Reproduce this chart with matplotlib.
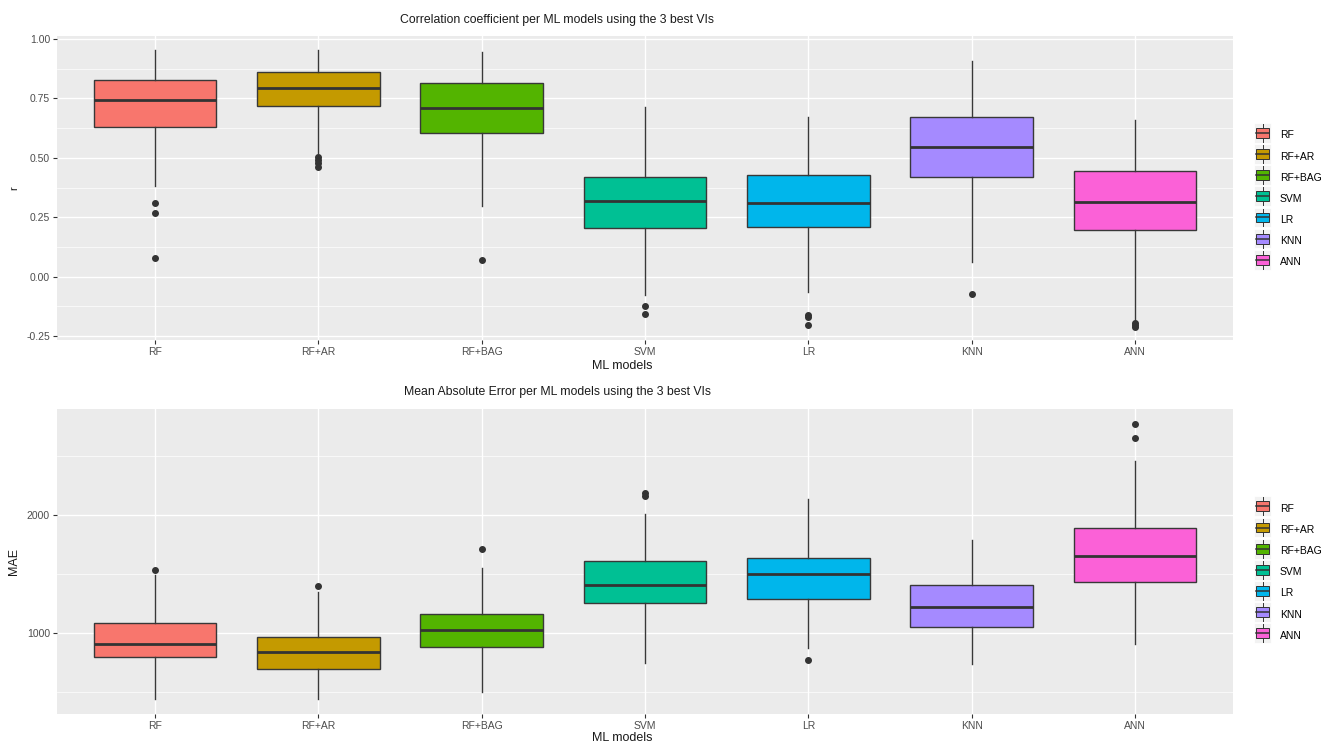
import matplotlib
matplotlib.use("Agg")
import matplotlib.pyplot as plt
from matplotlib.legend_handler import HandlerBase
from matplotlib.patches import Rectangle, Patch
from matplotlib.lines import Line2D

plt.rcParams['font.family'] = ['Liberation Sans', 'DejaVu Sans']

models = ["RF", "RF+AR", "RF+BAG", "SVM", "LR", "KNN", "ANN"]
colors = ["#F8766D", "#C49A00", "#53B400", "#00C094", "#00B6EB", "#A58AFF", "#FB61D7"]

# correlation coefficient r
r_low = [0.381, 0.520, 0.298, -0.077, -0.066, 0.063, -0.183]
r_q1 = [0.630, 0.719, 0.606, 0.205, 0.209, 0.418, 0.195]
r_med = [0.743, 0.795, 0.708, 0.320, 0.310, 0.547, 0.315]
r_q3 = [0.827, 0.862, 0.816, 0.418, 0.426, 0.672, 0.444]
r_high = [0.954, 0.954, 0.947, 0.712, 0.673, 0.907, 0.659]
r_out = [[0.310, 0.268, 0.078], [0.505, 0.490, 0.477, 0.463], [0.070],
         [-0.124, -0.156], [-0.162, -0.171, -0.202], [-0.075],
         [-0.194, -0.204, -0.211]]
r_ticks = [-0.25, 0.0, 0.25, 0.50, 0.75, 1.00]
r_lim = (-0.267, 1.013)

# mean absolute error
mae_low = [448, 442, 504, 747, 873, 740, 913]
mae_q1 = [800, 701, 882, 1259, 1290, 1056, 1431]
mae_med = [907, 844, 1027, 1408, 1504, 1219, 1656]
mae_q3 = [1090, 966, 1163, 1611, 1637, 1405, 1893]
mae_high = [1490, 1352, 1555, 2006, 2133, 1789, 2456]
mae_out = [[1535], [1400], [1713], [2183, 2163], [775], [], [2769, 2651]]
mae_ticks = [1000, 2000]
mae_lim = (318, 2896)

W, H = 1338, 747
fig = plt.figure(figsize=(W / 100, H / 100), dpi=100)


class BoxKey(HandlerBase):
    def create_artists(self, legend, orig, xd, yd, w, h, fontsize, trans):
        x0, y0 = -xd, -yd
        h = h + yd
        fc = orig.get_facecolor()
        bg = Rectangle((x0, y0), w, h, facecolor='#F2F2F2', edgecolor='white',
                       lw=0.6, transform=trans)
        box = Rectangle((x0 + 0.1 * w, y0 + 0.25 * h), 0.8 * w, 0.5 * h,
                        facecolor=fc, edgecolor='#333333', lw=0.7, transform=trans)
        med = Line2D([x0 + 0.1 * w, x0 + 0.9 * w], [y0 + h / 2] * 2,
                     color='#333333', lw=1.1, transform=trans)
        w1 = Line2D([x0 + w / 2] * 2, [y0 + 0.05 * h, y0 + 0.25 * h],
                    color='#333333', lw=0.7, transform=trans)
        w2 = Line2D([x0 + w / 2] * 2, [y0 + 0.75 * h, y0 + 0.95 * h],
                    color='#333333', lw=0.7, transform=trans)
        return [bg, box, med, w1, w2]


def panel(top_px, bot_px, low, q1, med, q3, high, out, ticks, lim, fmt,
          title, title_y, ylab, xlab_y, leg_y):
    ax = fig.add_axes([57 / W, 1 - bot_px / H, (1233 - 57) / W, (bot_px - top_px) / H])
    ax.set_facecolor('#EBEBEB')
    for s in ax.spines.values():
        s.set_visible(False)
    stats = []
    for i in range(len(models)):
        stats.append(dict(whislo=low[i], q1=q1[i], med=med[i], q3=q3[i],
                          whishi=high[i], fliers=out[i]))
    pos = list(range(1, len(models) + 1))
    bp = ax.bxp(stats, positions=pos, widths=0.75, patch_artist=True,
                showcaps=False,
                boxprops=dict(edgecolor='#383838', lw=1.0),
                medianprops=dict(color='#333333', lw=2.0),
                whiskerprops=dict(color='#383838', lw=1.0),
                flierprops=dict(marker='o', markerfacecolor='#333333',
                                markeredgecolor='#333333', markersize=4.0))
    for patch, c in zip(bp['boxes'], colors):
        patch.set_facecolor(c)
    ax.set_xlim(0.4, 7.6)
    ax.set_ylim(*lim)
    ax.set_xticks(pos)
    ax.set_xticklabels(models)
    ax.set_yticks(ticks)
    ax.set_yticklabels([fmt % t for t in ticks])
    step = ticks[1] - ticks[0]
    minors = [ticks[0] - step / 2] + [t + step / 2 for t in ticks]
    ax.set_yticks([m for m in minors if lim[0] < m < lim[1]], minor=True)
    ax.tick_params(which='major', length=3, width=0.8, color='#333333',
                   labelcolor='#4D4D4D', labelsize=7.5, pad=2)
    ax.tick_params(which='minor', length=0)
    ax.grid(which='major', color='white', lw=1.0)
    ax.grid(which='minor', axis='y', color='white', lw=0.5)
    ax.set_axisbelow(True)
    fig.text(557 / W, 1 - title_y / H, title, ha='center', va='center',
             fontsize=8.8, color='#1A1A1A')
    fig.text(622 / W, 1 - xlab_y / H, "ML models", ha='center', va='center',
             fontsize=9, color='#1A1A1A')
    fig.text(14 / W, 1 - (top_px + bot_px) / 2 / H, ylab, ha='center',
             va='center', rotation=90, fontsize=9 if ylab == "MAE" else 8,
             color='#1A1A1A')
    handles = [Patch(facecolor=c, label=m) for m, c in zip(models, colors)]
    fig.legend(handles=handles, loc='center left',
               bbox_to_anchor=(1254 / W, 1 - leg_y / H),
               frameon=False, fontsize=7.5, handler_map={Patch: BoxKey()},
               handlelength=1.65, handleheight=1.9, labelspacing=0.55,
               handletextpad=0.85, borderpad=0, borderaxespad=0)
    return ax


panel(36, 340, r_low, r_q1, r_med, r_q3, r_high, r_out, r_ticks, r_lim, "%.2f",
      "Correlation coefficient per ML models using the 3 best VIs", 20, "r", 366, 198.5)
panel(409, 714, mae_low, mae_q1, mae_med, mae_q3, mae_high, mae_out, mae_ticks,
      mae_lim, "%d", "Mean Absolute Error per ML models using the 3 best VIs",
      392, "MAE", 738, 572)

fig.savefig("out.png", dpi=100)
